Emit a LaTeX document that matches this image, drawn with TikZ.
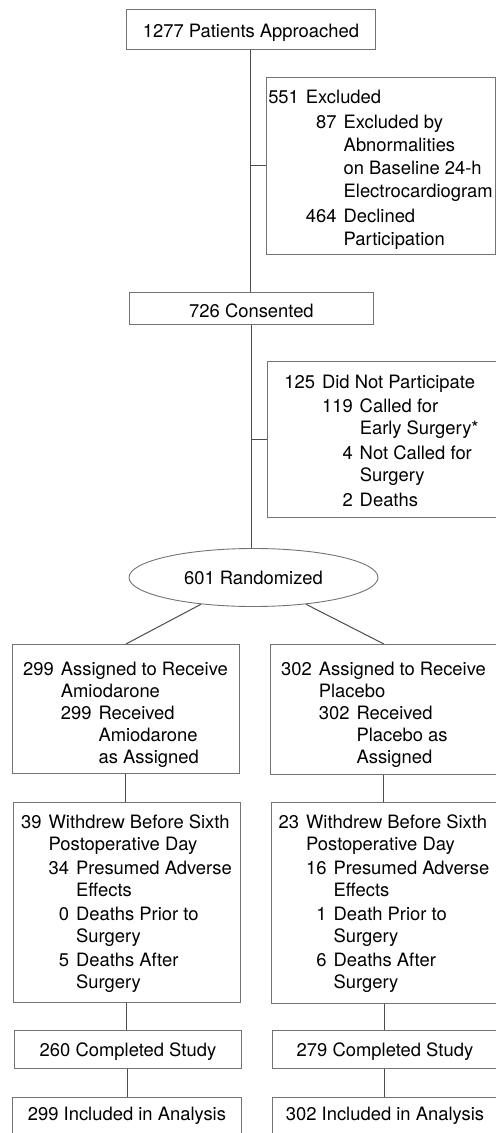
\documentclass[tikz,border=0pt]{standalone}
\usepackage{fontspec}
\setmainfont{TeX Gyre Heros}
\usetikzlibrary{shapes.geometric}
\newcommand\diagfont{\fontsize{9.2}{11}\selectfont}
\newcommand\mainitem[1]{\multicolumn{2}{@{}l@{}}{#1}}
\begin{document}
\begin{tikzpicture}[x=0.5pt,y=-0.5pt,
  frame/.style={draw=black!55, line width=0.45pt, inner sep=0pt, anchor=north west},
  onebox/.style={frame, font=\diagfont, text depth=0pt},
  txt/.style={inner sep=0pt, anchor=base, font=\diagfont},
  link/.style={draw=black!70, line width=0.5pt}]
\clip (0,0) rectangle (496,1133);

% ---- top part ----
\node[onebox, minimum width=124.5pt, minimum height=20pt, text height=7.7pt] (top) at (126,9) {1277 Patients Approached};

\node[frame, minimum width=114.5pt, minimum height=88.5pt] (excl) at (266,77) {};
\node[txt] (exclT) at (380.5,104) {\renewcommand\arraystretch{1.04}%
\begin{tabular}[t]{@{}r@{\hspace{3.5pt}}r@{\hspace{3.5pt}}l@{}}
551 & \mainitem{Excluded}\\[1pt]
 & 87 & Excluded by\\
 & & Abnormalities\\
 & & on Baseline 24-h\\
 & & Electrocardiogram\\[1pt]
 & 464 & Declined\\
 & & Participation
\end{tabular}};

\node[onebox, minimum width=122pt, minimum height=16pt, text height=9pt] (cons) at (129,292) {726 Consented};

\node[frame, minimum width=114.5pt, minimum height=78pt] (dnp) at (267,361) {};
\node[txt] (dnpT) at (381.5,388) {\renewcommand\arraystretch{1.02}%
\begin{tabular}[t]{@{}r@{\hspace{3.5pt}}r@{\hspace{3.5pt}}l@{}}
125 & \mainitem{Did Not Participate}\\[1pt]
 & 119 & Called for\\
 & & Early Surgery*\\[1pt]
 & 4 & Not Called for\\
 & & Surgery\\[1pt]
 & 2 & Deaths
\end{tabular}};

\node[draw=black!55, line width=0.45pt, ellipse, minimum width=124.5pt, minimum height=29pt, inner sep=0pt, font=\diagfont, text height=6.6pt, text depth=0pt] (rand) at (253.5,577.5) {601 Randomized};

% ---- assigned ----
\node[frame, minimum width=113.5pt, minimum height=64.5pt] (asgL) at (12,644) {};
\node[txt] (asgLT) at (125.5,675) {%
\begin{tabular}[t]{@{}r@{\hspace{3.5pt}}r@{\hspace{3.5pt}}l@{}}
299 & \mainitem{Assigned to Receive}\\
 & \mainitem{Amiodarone}\\
 & 299 & Received\\
 & & Amiodarone\\
 & & as Assigned
\end{tabular}};

\node[frame, minimum width=113.5pt, minimum height=65pt] (asgR) at (270,644) {};
\node[txt] (asgRT) at (383.5,675) {%
\begin{tabular}[t]{@{}r@{\hspace{3.5pt}}r@{\hspace{3.5pt}}l@{}}
302 & \mainitem{Assigned to Receive}\\
 & \mainitem{Placebo}\\
 & 302 & Received\\
 & & Placebo as\\
 & & Assigned
\end{tabular}};

% ---- withdrew ----
\node[frame, minimum width=113.5pt, minimum height=100pt] (wdL) at (13,802) {};
\node[txt] (wdLT) at (126.5,828) {%
\begin{tabular}[t]{@{}r@{\hspace{3.5pt}}r@{\hspace{3.5pt}}l@{}}
39 & \mainitem{Withdrew Before Sixth}\\
 & \mainitem{Postoperative Day}\\[1pt]
 & 34 & Presumed Adverse\\
 & & Effects\\[1pt]
 & 0 & Deaths Prior to\\
 & & Surgery\\[1pt]
 & 5 & Deaths After\\
 & & Surgery
\end{tabular}};

\node[frame, minimum width=113pt, minimum height=100.5pt] (wdR) at (271,802) {};
\node[txt] (wdRT) at (384,828) {%
\begin{tabular}[t]{@{}r@{\hspace{3.5pt}}r@{\hspace{3.5pt}}l@{}}
23 & \mainitem{Withdrew Before Sixth}\\
 & \mainitem{Postoperative Day}\\[1pt]
 & 16 & Presumed Adverse\\
 & & Effects\\[1pt]
 & 1 & Death Prior to\\
 & & Surgery\\[1pt]
 & 6 & Deaths After\\
 & & Surgery
\end{tabular}};

% ---- completed / included ----
\node[onebox, minimum width=113.5pt, minimum height=19pt, text height=6.6pt] (cmpL) at (14,1030) {260 Completed Study};
\node[onebox, minimum width=112.5pt, minimum height=19pt, text height=6.6pt] (cmpR) at (272,1030) {279 Completed Study};
\node[onebox, minimum width=114.5pt, minimum height=23pt, text height=3.3pt, text depth=3.3pt] (incL) at (12,1097) {299 Included in Analysis};
\node[onebox, minimum width=112.5pt, minimum height=23pt, text height=3.3pt, text depth=3.3pt] (incR) at (272,1097) {302 Included in Analysis};

% ---- connectors ----
\draw[link] (top.south) -- (top.south |- cons.north);
\draw[link] (top.south |- excl.west) -- (excl.west);
\draw[link] (cons.south) -- (cons.south |- rand.north);
\draw[link] (cons.south |- dnp.west) -- (dnp.west);
\draw[link] (rand.207) -- (asgL.north);
\draw[link] (rand.333) -- (asgR.north);
\draw[link] (asgL.south) -- (asgL.south |- wdL.north);
\draw[link] (asgR.south) -- (asgR.south |- wdR.north);
\draw[link] (wdL.south) -- (wdL.south |- cmpL.north);
\draw[link] (wdR.south) -- (wdR.south |- cmpR.north);
\draw[link] (cmpL.south) -- (cmpL.south |- incL.north);
\draw[link] (cmpR.south) -- (cmpR.south |- incR.north);
\end{tikzpicture}
\end{document}
